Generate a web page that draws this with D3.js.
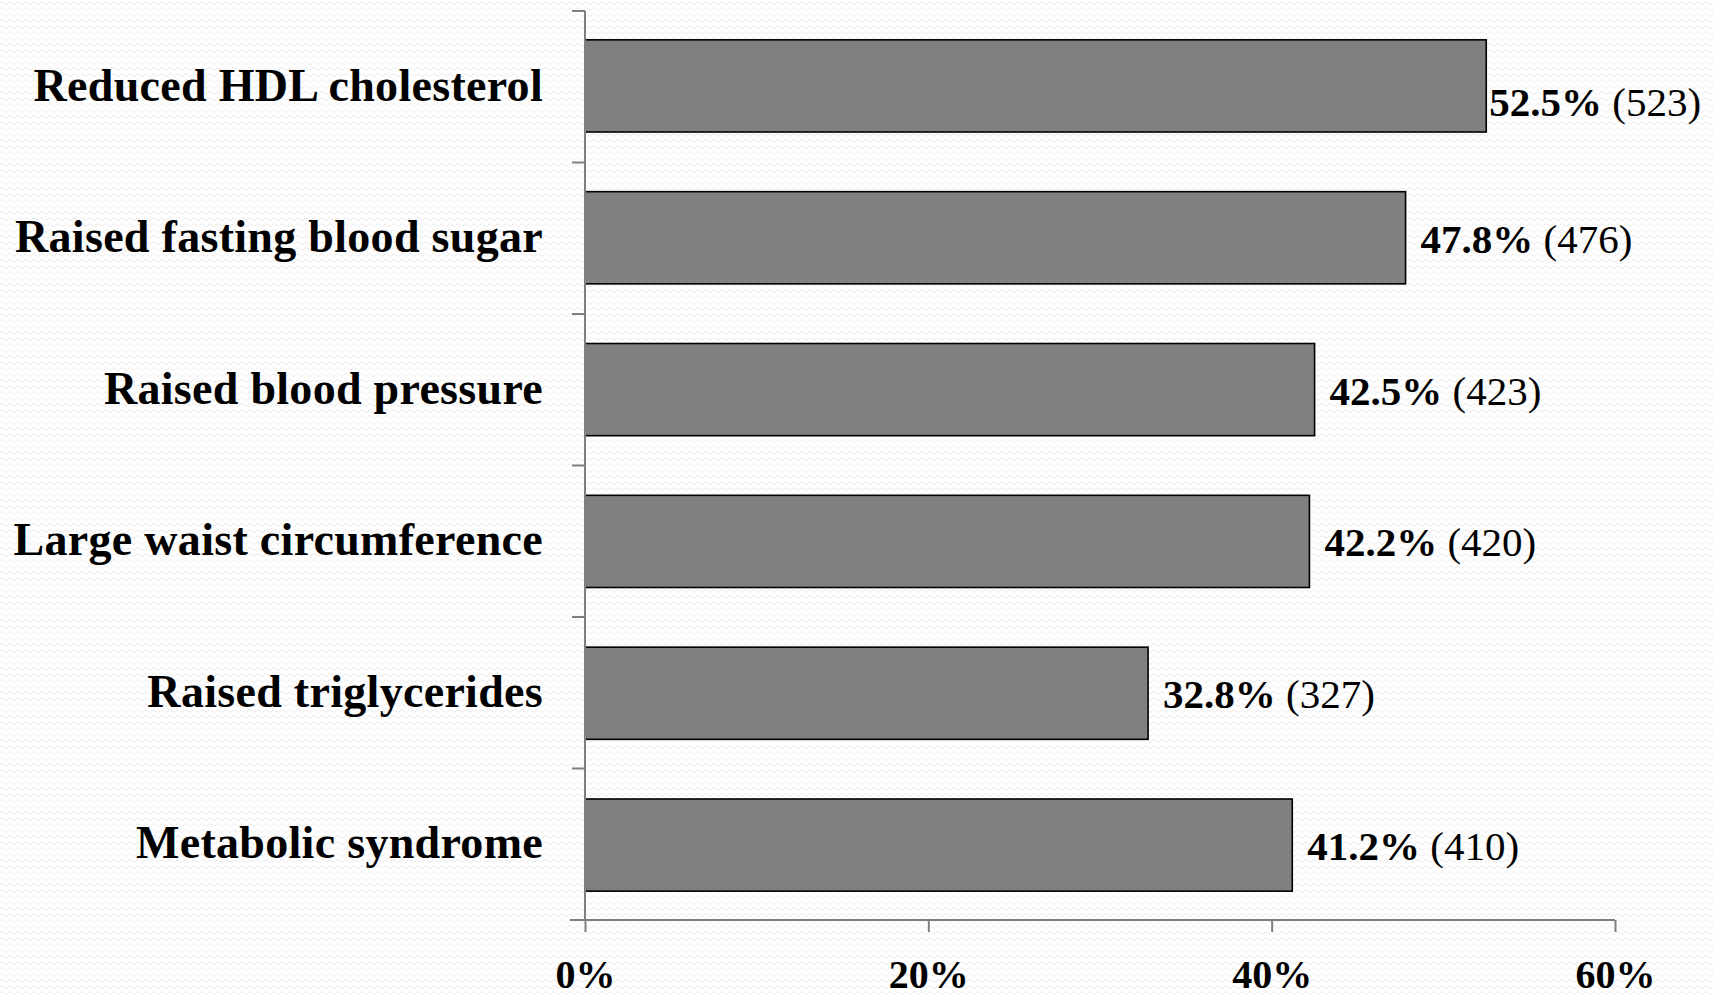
<!DOCTYPE html>
<html><head><meta charset="utf-8">
<script src="https://cdn.jsdelivr.net/npm/d3@7"></script>
<style>html,body{margin:0;padding:0;background:#fff;overflow:hidden}</style>
</head><body>
<svg id="chart" width="1713" height="997"></svg>
<script>
const categories = ["Reduced HDL cholesterol","Raised fasting blood sugar","Raised blood pressure","Large waist circumference","Raised triglycerides","Metabolic syndrome"];
const percents = [52.5, 47.8, 42.5, 42.2, 32.8, 41.2];
const counts = [523, 476, 423, 420, 327, 410];
const xTicks = [0, 20, 40, 60];

const svg = d3.select("#chart");
const W = 1713, H = 997;
const defs = svg.append("defs");
const pat = defs.append("pattern").attr("id","bgwave").attr("patternUnits","userSpaceOnUse").attr("width",8).attr("height",6);
pat.append("rect").attr("width",8).attr("height",6).attr("fill","#ffffff");
pat.append("path").attr("d","M0,3 Q2,0 4,3 T8,3").attr("fill","none").attr("stroke","#ececec").attr("stroke-width",1);
svg.append("rect").attr("width",W).attr("height",H).attr("fill","url(#bgwave)");

const x0 = 585, x1 = 1615, yTop = 11, yBot = 920;
const x = d3.scaleLinear().domain([0,60]).range([x0,x1]);
const y = d3.scaleBand().domain(categories).range([yTop,yBot]).paddingInner(0.393).paddingOuter(0.19);

const font = "'Liberation Serif', 'Times New Roman', serif";

// bars
svg.append("g").selectAll("rect").data(categories).join("rect")
  .attr("x", x(0)).attr("y", d=>y(d))
  .attr("width", (d,i)=>x(percents[i])-x(0))
  .attr("height", y.bandwidth())
  .attr("fill","#808080").attr("stroke","#000").attr("stroke-width",1.6);

// y axis
const yAxisScale = d3.scaleBand().domain(categories).range([yTop,yBot]);
const gy = svg.append("g").attr("transform",`translate(${x0},0)`)
  .call(d3.axisLeft(yAxisScale).tickSize(0).tickFormat(""));
gy.select(".domain").attr("stroke","#7f7f7f").attr("stroke-width",2).attr("d",`M0,${yTop}V${yBot}`);
const bounds = categories.map(c=>yAxisScale(c)).concat([yBot]);
svg.append("g").selectAll("line").data(bounds).join("line")
  .attr("x1",x0-13).attr("x2",x0).attr("y1",d=>d).attr("y2",d=>d)
  .attr("stroke","#7f7f7f").attr("stroke-width",2);

// category labels
svg.append("g").selectAll("text").data(categories).join("text")
  .attr("x",543).attr("y",d=>yAxisScale(d)+yAxisScale.bandwidth()/2+14)
  .attr("text-anchor","end").attr("font-family",font).attr("font-weight","bold")
  .attr("font-size",46).attr("letter-spacing",0.3).attr("fill","#000").text(d=>d);

// x axis
const gx = svg.append("g").attr("transform",`translate(0,${yBot})`)
  .call(d3.axisBottom(x).tickValues(xTicks).tickSize(12).tickPadding(28).tickFormat(d=>d+"%"));
gx.select(".domain").attr("stroke","#7f7f7f").attr("stroke-width",2).attr("d",`M${x0-15},0H${x1}`);
gx.selectAll(".tick line").attr("stroke","#7f7f7f").attr("stroke-width",2);
gx.selectAll(".tick text").attr("font-family",font).attr("font-weight","bold").attr("font-size",40).attr("fill","#000");

// value labels
const vl = svg.append("g").selectAll("text").data(categories).join("text")
  .attr("font-family",font).attr("font-size",41).attr("fill","#000");
vl.append("tspan").attr("font-weight","bold").text((d,i)=>percents[i].toFixed(1)+"%");
vl.append("tspan").text((d,i)=>" ("+counts[i]+")");
vl.each(function(d,i){
  const t = d3.select(this);
  const w = this.getComputedTextLength();
  let lx = x(percents[i]) + 15, ly = y(d) + y.bandwidth()/2 + 15;
  if (lx + w > W - 8) { lx = x(percents[i]) + 3; ly += 15; }
  t.attr("x", lx).attr("y", ly);
});
</script>
</body></html>
